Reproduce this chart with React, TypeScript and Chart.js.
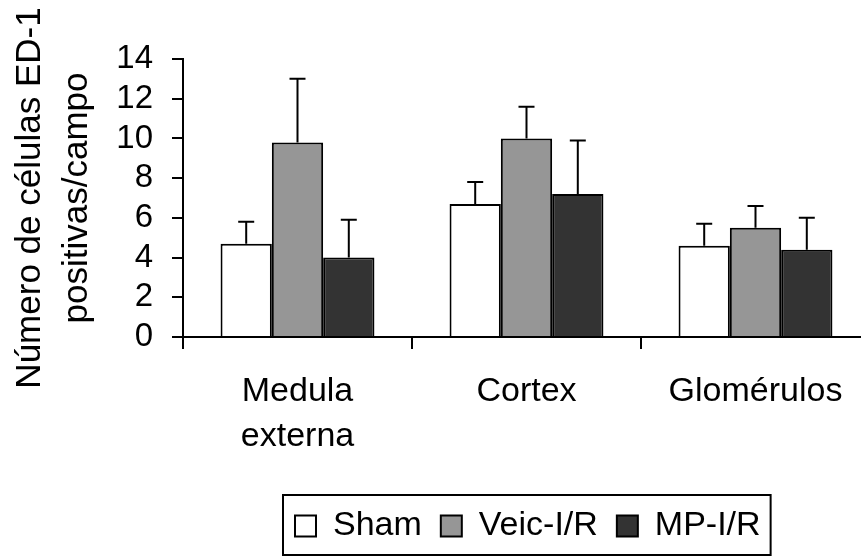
import React, { useEffect, useRef } from "react";
import { Chart, registerables } from "chart.js";

Chart.register(...registerables);

// ---- data ----
const categories: (string | string[])[] = [["Medula", "externa"], "Cortex", "Glomérulos"];
const seriesNames = ["Sham", "Veic-I/R", "MP-I/R"];
const shamValues = [4.7, 6.7, 4.6];
const shamErrors = [1.1, 1.1, 1.1];
const veicValues = [9.8, 10.0, 5.5];
const veicErrors = [3.2, 1.6, 1.1];
const mpValues = [4.0, 7.2, 4.4];
const mpErrors = [1.9, 2.7, 1.6];
const yMin = 0;
const yMax = 14;
const yStep = 2;
const yTitle = ["Número de células ED-1", "positivas/campo"];

// ---- styles ----
const FONT = '"Liberation Sans", Arial, Helvetica, sans-serif';
const seriesColors = ["#ffffff", "#969696", "#333333"];
const CANVAS_W = 880;
const CANVAS_H = 556;
const PLOT_TOP = 59;
const PLOT_BOTTOM = 337;
const AXIS_LEFT = 183;

const errorSets = [shamErrors, veicErrors, mpErrors];
const valueSets = [shamValues, veicValues, mpValues];

const errorBarsPlugin = {
  id: "errorBars",
  afterDatasetsDraw(chart: any) {
    const ctx = chart.ctx;
    const yScale = chart.scales.y;
    ctx.save();
    ctx.strokeStyle = "#000";
    ctx.lineWidth = 2;
    chart.data.datasets.forEach((ds: any, i: number) => {
      const meta = chart.getDatasetMeta(i);
      const errs = errorSets[i];
      const vals = valueSets[i];
      meta.data.forEach((bar: any, j: number) => {
        const x = bar.x;
        const y0 = bar.y;
        const y1 = yScale.getPixelForValue(vals[j] + errs[j]);
        ctx.beginPath();
        ctx.moveTo(x, y0);
        ctx.lineTo(x, y1);
        ctx.moveTo(x - 8, y1);
        ctx.lineTo(x + 8, y1);
        ctx.stroke();
      });
    });
    ctx.restore();
  },
};

const legendBoxPlugin = {
  id: "legendBox",
  afterLayout(chart: any) {
    const lg = chart.legend;
    if (!lg || !lg.lineWidths) return;
    const pad = lg.options.labels.padding;
    const lw = lg.lineWidths[0];
    const startX = 295;
    const h = lg.height;
    lg.left = startX - pad;
    lg.right = startX + lw;
    lg.width = lg.right - lg.left;
    lg.top = 490;
    lg.bottom = lg.top + h;
  },
  afterDraw(chart: any) {
    const lg = chart.legend;
    if (!lg || !lg.lineWidths) return;
    const pad = lg.options.labels.padding;
    const lw = lg.lineWidths[0];
    const start = lg.left + pad;
    const x0 = start - 12;
    const x1 = start + lw - pad + 10;
    const y0 = lg.top + 5;
    const y1 = lg.top + 65;
    const ctx = chart.ctx;
    ctx.save();
    ctx.strokeStyle = "#000";
    ctx.lineWidth = 2;
    ctx.strokeRect(x0, y0, x1 - x0, y1 - y0);
    ctx.restore();
  },
};

export default function App() {
  const ref = useRef<HTMLCanvasElement | null>(null);

  useEffect(() => {
    if (!ref.current) return;
    Chart.defaults.font.family = FONT;
    Chart.defaults.color = "#000";
    const chart = new Chart(ref.current, {
      type: "bar",
      data: {
        labels: categories as any,
        datasets: [
          {
            label: seriesNames[0],
            data: shamValues,
            backgroundColor: seriesColors[0],
            borderColor: "#000",
            borderWidth: 2,
            barPercentage: 1,
            categoryPercentage: 0.672,
          },
          {
            label: seriesNames[1],
            data: veicValues,
            backgroundColor: seriesColors[1],
            borderColor: "#000",
            borderWidth: 2,
            barPercentage: 1,
            categoryPercentage: 0.672,
          },
          {
            label: seriesNames[2],
            data: mpValues,
            backgroundColor: seriesColors[2],
            borderColor: "#000",
            borderWidth: 2,
            barPercentage: 1,
            categoryPercentage: 0.672,
          },
        ],
      },
      options: {
        responsive: false,
        animation: false,
        events: [],
        layout: {
          padding: { top: PLOT_TOP, right: CANVAS_W - 870, bottom: 0, left: 0 },
        },
        plugins: {
          legend: {
            display: true,
            position: "bottom",
            labels: {
              font: { size: 34, family: FONT },
              color: "#000",
              boxWidth: 21,
              boxHeight: 21,
              padding: 19,
            },
          },
          tooltip: { enabled: false },
        },
        scales: {
          x: {
            type: "category",
            offset: true,
            grid: {
              display: true,
              offset: true,
              drawOnChartArea: false,
              drawTicks: true,
              tickLength: 12,
              color: "#000",
              lineWidth: 2,
            },
            border: { display: true, color: "#000", width: 2 },
            ticks: {
              font: { size: 34, family: FONT, lineHeight: 1.32 },
              color: "#000",
              padding: 20,
              maxRotation: 0,
              minRotation: 0,
              autoSkip: false,
            },
            afterFit(scale: any) {
              const lh = scale.chart.legend ? scale.chart.legend.height : 0;
              scale.height = CANVAS_H - PLOT_BOTTOM - lh;
            },
          },
          y: {
            min: yMin,
            max: yMax,
            grid: {
              display: true,
              drawOnChartArea: false,
              drawTicks: true,
              tickLength: 11,
              color: "#000",
              lineWidth: 2,
            },
            border: { display: true, color: "#000", width: 2 },
            ticks: {
              stepSize: yStep,
              autoSkip: false,
              font: { size: 33, family: FONT, lineHeight: 1 },
              color: "#000",
              padding: 19,
            },
            title: {
              display: true,
              text: yTitle,
              font: { size: 35, family: FONT, lineHeight: 1.34 },
              color: "#000",
              padding: { top: 7, bottom: 0 },
            },
            afterFit(scale: any) {
              scale.width = AXIS_LEFT;
            },
          },
        },
      },
      plugins: [errorBarsPlugin, legendBoxPlugin],
    });
    return () => chart.destroy();
  }, []);

  return (
    <div
      style={{
        position: "fixed",
        left: 0,
        top: 0,
        width: 861,
        height: 556,
        overflow: "hidden",
        background: "#fff",
      }}
    >
      <canvas
        ref={ref}
        width={CANVAS_W}
        height={CANVAS_H}
        style={{ display: "block", width: CANVAS_W, height: CANVAS_H }}
      />
    </div>
  );
}
